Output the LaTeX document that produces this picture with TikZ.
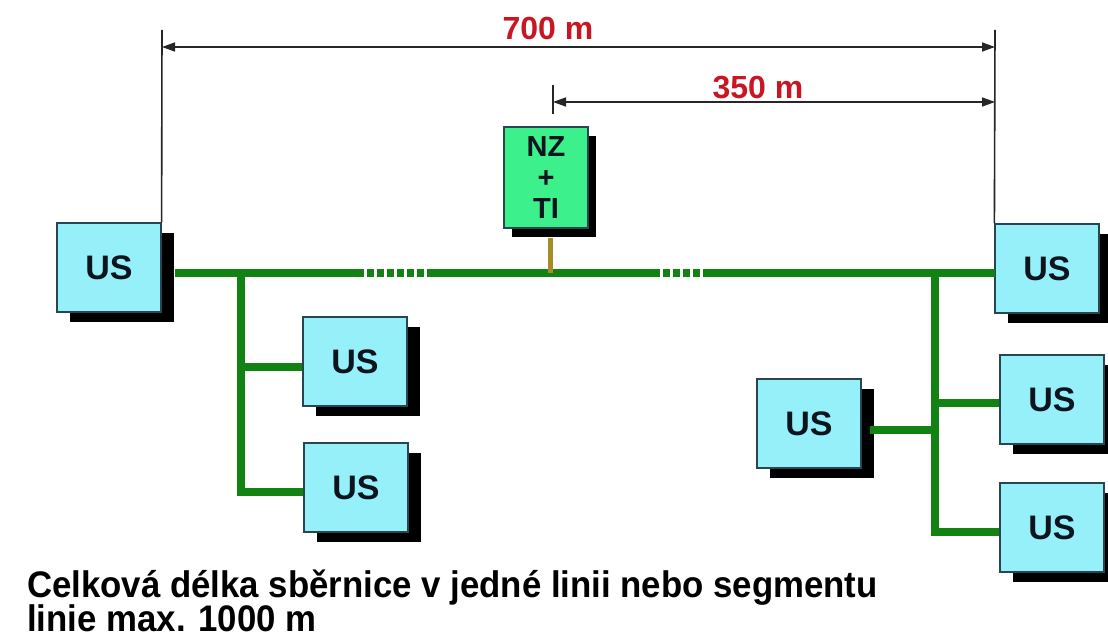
\documentclass[tikz,border=0pt]{standalone}
\usepackage{fontspec}
\setmainfont{Liberation Sans}
\usetikzlibrary{shadows,arrows.meta}
\definecolor{usfill}{RGB}{150,240,250}
\definecolor{nzfill}{RGB}{60,240,140}
\definecolor{busgreen}{RGB}{18,130,18}
\definecolor{stemcol}{RGB}{165,140,40}
\definecolor{dimred}{RGB}{200,22,35}
\definecolor{boxline}{RGB}{40,70,80}
\definecolor{txt}{RGB}{12,20,30}
\tikzset{
  usbox/.style={draw=boxline, line width=1.2pt, fill=usfill, minimum width=104pt, minimum height=89pt,
    inner sep=0pt, text=txt, font=\bfseries\fontsize{34}{38}\selectfont,
    copy shadow={shadow xshift=13pt, shadow yshift=-10pt, fill=black, draw=none}},
  nzbox/.style={draw=boxline, line width=1.2pt, fill=nzfill, minimum width=84pt, minimum height=101pt,
    inner sep=0pt, text=txt, align=center, font=\bfseries\fontsize{29}{31}\selectfont,
    copy shadow={shadow xshift=8pt, shadow yshift=-9pt, fill=black, draw=none}},
  bus/.style={busgreen, line width=8.5pt},
  busdash/.style={busgreen, line width=8.5pt, dash pattern=on 7pt off 3pt},
  stem/.style={stemcol, line width=5pt},
  dimline/.style={black!85, line width=1.6pt},
  dimarrow/.style={dimline, {Triangle[length=13pt,width=9pt]}-{Triangle[length=13pt,width=9pt]}},
  dimlabel/.style={text=dimred, font=\bfseries\fontsize{32}{36}\selectfont, anchor=base, inner sep=0pt},
  note/.style={text=black, font=\bfseries\fontsize{37}{38}\selectfont, anchor=base west, inner sep=0pt}
}
\begin{document}
\begin{tikzpicture}[x=1pt,y=-1pt]
\useasboundingbox (0,0) rectangle (1108,644);
\clip (0,0) rectangle (1108,644);
% boxes
\node[usbox] (A) at (109,267.5) {US};
\node[usbox] (B) at (355,361.5) {US};
\node[usbox] (C) at (356,487.5) {US};
\node[usbox] (D) at (1047,268.5) {US};
\node[usbox] (E) at (809,423.5) {US};
\node[usbox] (F) at (1052,399.5) {US};
\node[usbox] (G) at (1052,527.5) {US};
\node[nzbox] (N) at (546,177.5) {NZ\\+\\TI};
% bus junction coordinates
\coordinate (b0) at (175,273);
\coordinate (d1) at (357,273);
\coordinate (d2) at (427,273);
\coordinate (tap) at (550,273);
\coordinate (d3) at (653,273);
\coordinate (d4) at (708,273);
\coordinate (jl) at (241,273);
\coordinate (jr) at (935,273);
\coordinate (b1) at (995,273);
\coordinate (jlb) at (241,367);
\coordinate (jlc) at (241,492);
\coordinate (jre) at (935,430);
\coordinate (jrf) at (935,403);
\coordinate (jrg) at (935,532);
\coordinate (eout) at (870,430);
% main bus
\draw[bus] (b0) -- (d1);
\draw[busdash] (d1) -- (d2);
\draw[bus] (d2) -- (d3);
\draw[busdash] (d3) -- (d4);
\draw[bus] (d4) -- (b1);
% stem
\draw[stem] (N.south) ++(4,9) -- (tap);
% left branch
\draw[bus] (jl) -- (jlc);
\draw[bus] (jlb) -- (B.west |- jlb);
\draw[bus] ([xshift=-4.25pt]jlc) -- (C.west |- jlc);
% right branch
\draw[bus] (jr) -- (jrg);
\draw[bus] (jrf) -- (F.west |- jrf);
\draw[bus] ([xshift=-4.25pt]jrg) -- (G.west |- jrg);
\draw[bus] (eout) -- (jre);
% dimension lines
\coordinate (e1top) at (162,30);
\coordinate (e2top) at (995,30);
\coordinate (t350a) at (553,85);
\coordinate (t350b) at (553,114);
\draw[dimline] (e1top) -- (A.north east);
\draw[dimline] (e2top) -- (D.north west);
\draw[dimline] (t350a) -- (t350b);
\coordinate (a1) at (162,47);
\coordinate (a2) at (995,47);
\coordinate (a3) at (553,102);
\coordinate (a4) at (995,102);
\draw[dimarrow] (a1) -- (a2);
\draw[dimarrow] (a3) -- (a4);
\node[dimlabel] (L700) at (548,40) {700 m};
\node[dimlabel] (L350) at (758,99) {350 m};
% note
\node[note] (n1) at (27,597) {\scalebox{0.94}[1]{Celková délka sběrnice v jedné linii nebo segmentu}};
\node[note] (n2) at (27,631) {\scalebox{0.94}[1]{linie max. 1000 m}};
\end{tikzpicture}
\end{document}
